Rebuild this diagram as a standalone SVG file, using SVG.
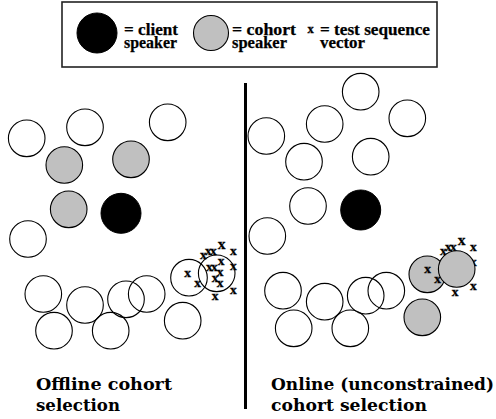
<svg xmlns="http://www.w3.org/2000/svg" width="496" height="419" viewBox="0 0 496 419">
<style>
.w{fill:none;stroke:#000;stroke-width:1.1}
.g{fill:#c0c0c0;stroke:#000;stroke-width:1.1}
.b{fill:#000;stroke:#000;stroke-width:1}
.lg{font-family:'Liberation Serif','Times New Roman',serif;font-weight:700;font-size:17px;fill:#000;stroke:#000;stroke-width:0.25}
.x{font-family:'Liberation Serif','Times New Roman',serif;font-weight:700;font-size:13.5px;fill:#000;text-anchor:middle;stroke:#000;stroke-width:0.3}
.X{font-family:'Liberation Serif','Times New Roman',serif;font-weight:700;font-size:15.5px;fill:#000;text-anchor:middle;stroke:#000;stroke-width:0.3}
.cap{font-family:'DejaVu Serif',serif;font-weight:700;font-size:17px;fill:#000}
</style>
<defs>
<g id="xs">
<text class="x" x="187.7" y="277.3">x</text>
<text class="x" x="197.7" y="287.3">x</text>
<text class="x" x="203.3" y="259">x</text>
<text class="x" x="208.3" y="254.7">x</text>
<text class="x" x="213.3" y="254.7">x</text>
<text class="X" x="221.7" y="248.5">x</text>
<text class="x" x="233.3" y="254.7">x</text>
<text class="x" x="209.3" y="271.3">x</text>
<text class="x" x="214.3" y="271.3">x</text>
<text class="x" x="221" y="264.7">x</text>
<text class="x" x="220" y="276.3">x</text>
<text class="x" x="233.3" y="270.3">x</text>
<text class="x" x="215" y="282.3">x</text>
<text class="x" x="220" y="287.3">x</text>
<text class="x" x="233.3" y="293.7">x</text>
<text class="x" x="215" y="299.7">x</text>
</g>
</defs>

<g id="legend">
<rect x="62" y="2" width="375" height="65" fill="#fff" stroke="#222" stroke-width="1.6"/>
<circle class="b" cx="97" cy="33" r="20"/>
<text class="lg" x="124" y="35" textLength="54" lengthAdjust="spacingAndGlyphs">= client</text>
<text class="lg" x="124" y="47.5" textLength="53" lengthAdjust="spacingAndGlyphs">speaker</text>
<circle class="g" cx="211" cy="33" r="17.5"/>
<text class="lg" x="232" y="35" textLength="64" lengthAdjust="spacingAndGlyphs">= cohort</text>
<text class="lg" x="232" y="47.5" textLength="55" lengthAdjust="spacingAndGlyphs">speaker</text>
<text class="x" x="310.5" y="32.5" style="font-size:12.5px">x</text>
<text class="lg" x="320" y="35" textLength="110" lengthAdjust="spacingAndGlyphs">= test sequence</text>
<text class="lg" x="320" y="47.5" textLength="45" lengthAdjust="spacingAndGlyphs">vector</text>
</g>

<line id="divider" x1="245.5" y1="83" x2="245.5" y2="409" stroke="#000" stroke-width="3"/>

<g id="offline">
<circle class="w" cx="26.7" cy="138.3" r="18.3"/>
<circle class="w" cx="85" cy="127.3" r="18.3"/>
<circle class="w" cx="167.7" cy="122.3" r="18.3"/>
<circle class="g" cx="64.3" cy="165" r="18.3"/>
<circle class="g" cx="131" cy="159.3" r="18.3"/>
<circle class="g" cx="68.7" cy="209.3" r="18.3"/>
<circle class="b" cx="121" cy="213.3" r="20"/>
<circle class="w" cx="28" cy="239" r="18.3"/>
<circle class="w" cx="43.3" cy="294" r="18.3"/>
<circle class="w" cx="85" cy="305" r="18.3"/>
<circle class="w" cx="54" cy="330.7" r="18.3"/>
<circle class="w" cx="110.7" cy="330.7" r="18.3"/>
<circle class="w" cx="126" cy="299.3" r="18.3"/>
<circle class="w" cx="146.7" cy="294" r="18.3"/>
<circle class="w" cx="182.7" cy="320.7" r="18.3"/>
<circle class="w" cx="189" cy="277.7" r="18.3"/>
<circle class="w" cx="216.7" cy="273.3" r="18.3"/>
<use href="#xs"/>
</g>

<g id="online">
<circle class="w" cx="360.7" cy="91.7" r="18.3"/>
<circle class="w" cx="324.7" cy="124" r="18.3"/>
<circle class="w" cx="407.3" cy="118.3" r="18.3"/>
<circle class="w" cx="266.3" cy="136" r="18.3"/>
<circle class="w" cx="304" cy="161.7" r="18.3"/>
<circle class="w" cx="370.7" cy="156.7" r="18.3"/>
<circle class="w" cx="308" cy="206" r="18.3"/>
<circle class="b" cx="360.7" cy="210" r="20"/>
<circle class="w" cx="267.3" cy="236" r="18.3"/>
<circle class="w" cx="283" cy="290.7" r="18.3"/>
<circle class="w" cx="324.7" cy="301.7" r="18.3"/>
<circle class="w" cx="293.7" cy="328.3" r="18.3"/>
<circle class="w" cx="350.3" cy="328.3" r="18.3"/>
<circle class="w" cx="365.7" cy="295.7" r="18.3"/>
<circle class="w" cx="386.3" cy="290.7" r="18.3"/>
<circle class="g" cx="422.3" cy="317.3" r="18.3"/>
<circle class="g" cx="427.3" cy="274.3" r="18.3"/>
<use href="#xs" transform="translate(240,-4)"/>
<circle class="g" cx="456.7" cy="269" r="18.3"/>
</g>

<g id="labels">
<text class="cap" x="36" y="390" textLength="136" lengthAdjust="spacingAndGlyphs">Offline cohort</text>
<text class="cap" x="36" y="411" textLength="84" lengthAdjust="spacingAndGlyphs">selection</text>
<text class="cap" x="271" y="390" textLength="223" lengthAdjust="spacingAndGlyphs">Online (unconstrained)</text>
<text class="cap" x="271" y="411" textLength="156" lengthAdjust="spacingAndGlyphs">cohort selection</text>
</g>
</svg>
